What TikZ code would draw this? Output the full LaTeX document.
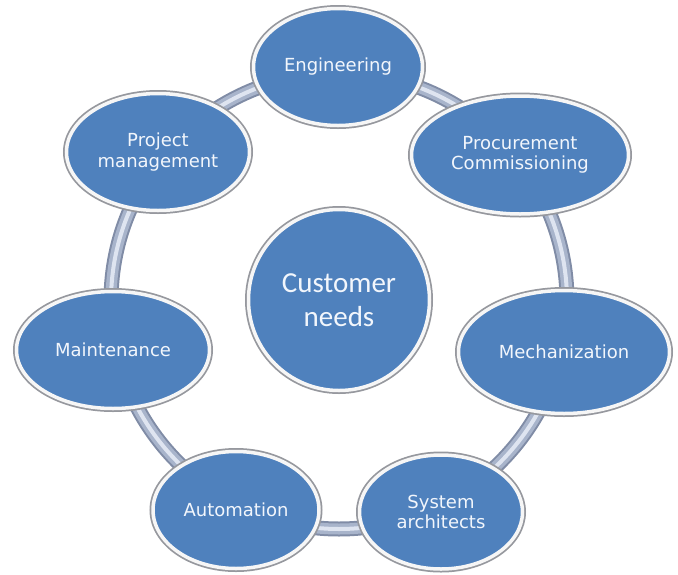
\documentclass[tikz,border=0pt]{standalone}
\usepackage{fontspec}
\setmainfont{DejaVu Sans}
\newfontfamily\hubfont{Carlito}
\usetikzlibrary{shapes.geometric}
\definecolor{cellblue}{RGB}{79,129,189}
\definecolor{rimgray}{RGB}{150,152,158}
\definecolor{rimwhite}{RGB}{246,246,246}
\definecolor{tubedark}{RGB}{128,140,166}
\definecolor{tubelight}{RGB}{168,180,203}
\definecolor{tubeshine}{RGB}{222,228,240}
\definecolor{labelwhite}{RGB}{242,246,252}

\begin{document}
\begin{tikzpicture}[x=1pt,y=-1pt,
  cell/.style={ellipse,inner sep=0pt,fill=cellblue,draw=rimwhite,line width=3.5pt,
    preaction={draw=rimgray,line width=7pt},
    text=labelwhite,align=center,font=\fontsize{18}{20.5}\selectfont},
  hubcell/.style={cell,circle,minimum size=181pt,font=\hubfont\fontsize{29}{34}\selectfont},
  tube/.style={draw=tubedark,line width=15pt,
    postaction={draw=tubelight,line width=11pt},
    postaction={draw=tubeshine,line width=4pt}}
]
\useasboundingbox (0,0) rectangle (678,574);
\coordinate (hub) at (339,301);
\draw[tube] (hub) circle[radius=228pt];

\node[hubcell] (cust) at (339,300) {Customer\\needs};

\node[cell,minimum width=169pt,minimum height=117pt] (eng) at (338,67) {Engineering};
\node[cell,minimum width=217pt,minimum height=118pt] (proc) at (520,155) {Procurement\\Commissioning};
\node[cell,minimum width=211pt,minimum height=123pt] (mech) at (564,352) {Mechanization};
\node[cell,minimum width=163pt,minimum height=114pt] (sys) at (441,512) {System\\architects};
\node[cell,minimum width=166pt,minimum height=117pt] (auto) at (236,510) {Automation};
\node[cell,minimum width=193pt,minimum height=117pt] (maint) at (113,350) {Maintenance};
\node[cell,minimum width=183pt,minimum height=117pt] (proj) at (158,152) {Project\\management};
\end{tikzpicture}
\end{document}
